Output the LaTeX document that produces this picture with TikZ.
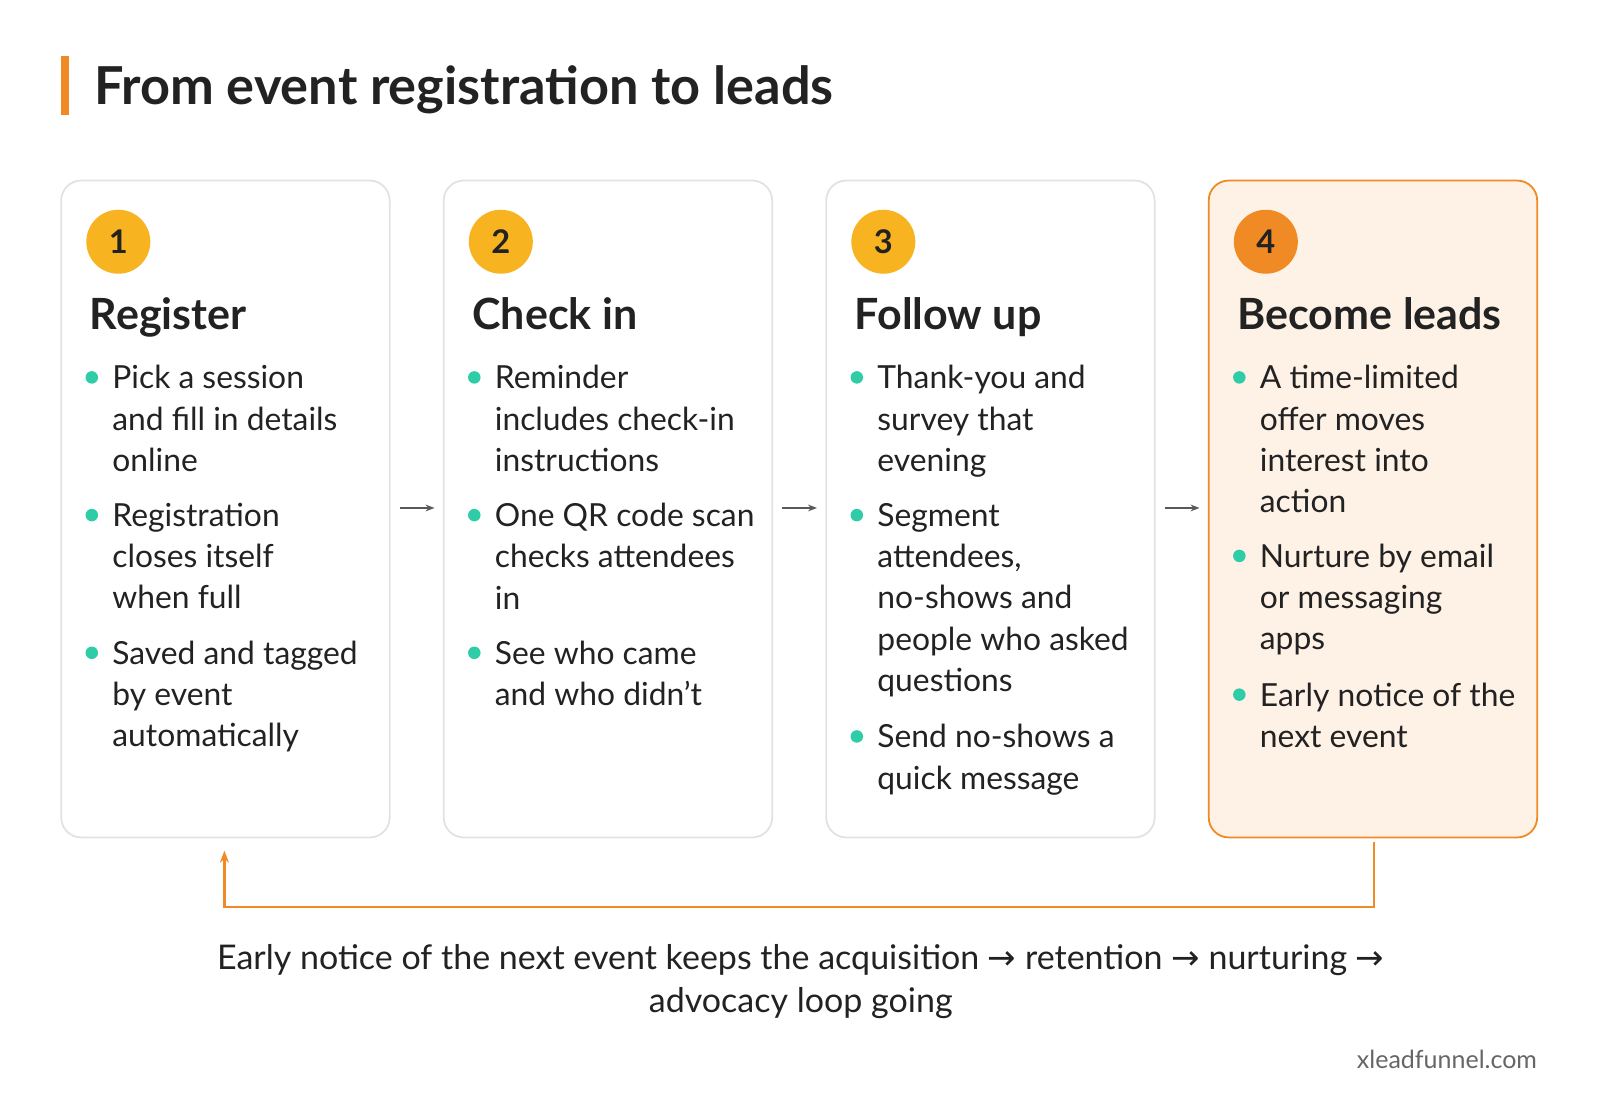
\documentclass[tikz,border=0pt]{standalone}
\usepackage{fontspec}
\setmainfont{Lato}
\newfontfamily\arrowfont{DejaVu Sans}
\usetikzlibrary{arrows.meta}
\definecolor{ink}{HTML}{222222}
\definecolor{gold}{HTML}{F8B420}
\definecolor{orng}{HTML}{F08A24}
\definecolor{peach}{HTML}{FEF1E6}
\definecolor{teal}{HTML}{2ECDA7}
\definecolor{edge}{HTML}{E2E2E2}
\tikzset{
  card/.style={draw=edge, line width=1.8pt, rounded corners=20pt},
  num/.style={circle, fill=gold, minimum size=64pt, inner sep=0pt, text=ink, font=\fontsize{32.6}{32.6}\selectfont\bfseries},
  head/.style={anchor=base west, inner sep=0pt, text=ink, font=\fontsize{43}{43}\selectfont\bfseries},
  item/.style={anchor=north west, inner sep=0pt, align=left, text=ink, font=\fontsize{31.8}{41.3}\selectfont},
  dot/.style={circle, fill=teal, minimum size=12.5pt, inner sep=0pt},
  nextstep/.style={-{Stealth[length=9pt]}, draw=gray!70!black, line width=2pt},
}
\newcommand{\bul}[4]{% name, x, y, text
  \node[dot] (#1d) at (#2+30,#3) {};
  \node[item] (#1) at (#2+50,#3-12) {#4};}
\newcommand{\arr}{{\arrowfont\char"2192}}
\begin{document}
\begin{tikzpicture}[x=1.02pt,y=-1.02pt]
% title
\fill[orng] (60,55) rectangle (68,113);
\node[anchor=base west, inner sep=0pt, text=ink, font=\fontsize{52.3}{52.3}\selectfont\bfseries] (title) at (92,102) {From event registration to leads};
% cards
\draw[card] (60,177) rectangle (382,821);
\draw[card] (435,177) rectangle (757,821);
\draw[card] (810,177) rectangle (1132,821);
\draw[card, draw=orng, fill=peach] (1185,177) rectangle (1507,821);
\node[num] (n1) at (116,237) {1};
\node[num] (n2) at (491,237) {2};
\node[num] (n3) at (866,237) {3};
\node[num, fill=orng] (n4) at (1241,237) {4};
\node[head] (h1) at (88,323) {Register};
\node[head] (h2) at (463,323) {Check in};
\node[head] (h3) at (838,323) {Follow up};
\node[head] (h4) at (1213,323) {Become leads};
% bullets
\bul{a1}{60}{370}{Pick a session\\and fill in details\\online}
\bul{a2}{60}{505}{Registration\\closes itself\\when full}
\bul{a3}{60}{640}{Saved and tagged\\by event\\automatically}
\bul{b1}{435}{370}{Reminder\\includes check-in\\instructions}
\bul{b2}{435}{505}{One QR code scan\\checks attendees\\in}
\bul{b3}{435}{640}{See who came\\and who didn't}
\bul{c1}{810}{370}{Thank-you and\\survey that\\evening}
\bul{c2}{810}{505}{Segment\\attendees,\\no-shows and\\people who asked\\questions}
\bul{c3}{810}{722}{Send no-shows a\\quick message}
\bul{d1}{1185}{370}{A time-limited\\offer moves\\interest into\\action}
\bul{d2}{1185}{545}{Nurture by email\\or messaging\\apps}
\bul{d3}{1185}{681}{Early notice of the\\next event}
% step arrows
\coordinate (s1a) at (392,498); \coordinate (s1b) at (426,498);
\coordinate (s2a) at (767,498); \coordinate (s2b) at (801,498);
\coordinate (s3a) at (1142,498); \coordinate (s3b) at (1176,498);
\draw[nextstep] (s1a) -- (s1b);
\draw[nextstep] (s2a) -- (s2b);
\draw[nextstep] (s3a) -- (s3b);
% loop
\coordinate (la) at (1347,825); \coordinate (lb) at (220,834);
\draw[orng, line width=2.4pt, -{Stealth[length=12pt]}] (la) |- (784,889) -| (lb);
\node[align=center, inner sep=0pt, text=ink, font=\fontsize{34}{42.8}\selectfont] (note) at (785,962)
  {Early notice of the next event keeps the acquisition \arr{} retention \arr{} nurturing \arr\\advocacy loop going};
\node[anchor=base east, inner sep=0pt, text=gray!80!black, font=\fontsize{25}{25}\selectfont] (site) at (1507,1048) {xleadfunnel.com};
\pgfresetboundingbox
\useasboundingbox (0,0) rectangle (1568.6,1083.3);
\end{tikzpicture}
\end{document}
